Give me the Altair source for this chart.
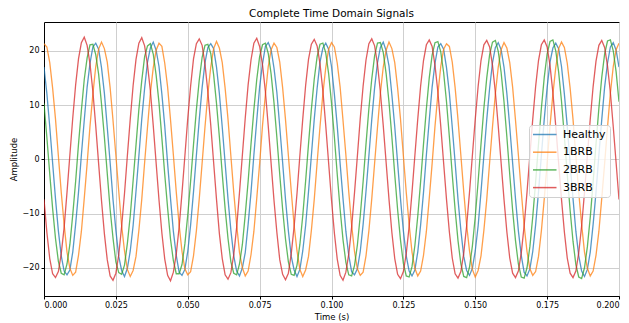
import altair as alt
import pandas as pd

signals = ["Healthy", "1BRB", "2BRB", "3BRB"]
colors = ["#1f77b4", "#ff7f0e", "#2ca02c", "#d62728"]
sample_interval = 0.001  # 1 kHz sampling, 201 samples per signal

healthy = [
    17.0, 12.1, 6.0, -0.7, -7.3, -13.2, -17.8, -20.6, -21.3, -20.4, -17.1, -12.0, -6.1, 0.8, 7.2, 13.3, 17.7, 20.7, 21.4, 20.3,
    16.9, 12.2, 5.9, -0.6, -7.4, -13.1, -17.9, -20.5, -21.6, -20.1, -16.9, -12.2, -5.9, 0.6, 7.4, 13.1, 17.9, 20.5, 21.6, 20.1,
    17.1, 12.0, 6.1, -0.8, -7.2, -13.3, -17.7, -20.8, -21.4, -20.3, -17.0, -12.1, -6.0, 0.7, 7.3, 13.2, 17.8, 20.6, 21.3, 20.4,
    17.0, 12.1, 5.9, -0.7, -7.3, -13.1, -17.8, -20.6, -21.5, -20.0, -17.2, -12.0, -6.1, 0.8, 7.2, 13.3, 17.6, 20.8, 21.5, 20.2,
    16.8, 12.3, 6.0, -0.6, -7.4, -13.2, -17.9, -20.4, -21.6, -20.3, -16.9, -12.2, -6.0, 0.7, 7.4, 13.1, 17.9, 20.5, 21.4, 20.3,
    17.1, 12.0, 6.1, -0.8, -7.2, -13.3, -17.7, -20.7, -21.3, -20.2, -17.0, -12.0, -5.9, 0.6, 7.3, 13.2, 17.8, 20.6, 21.6, 20.0,
    17.2, 11.9, 6.0, -0.7, -7.3, -13.2, -17.8, -20.6, -21.5, -20.4, -17.1, -12.1, -6.1, 0.8, 7.2, 13.3, 17.7, 20.7, 21.3, 20.3,
    16.9, 12.2, 5.9, -0.6, -7.4, -13.1, -17.9, -20.5, -21.4, -20.1, -16.9, -12.3, -6.0, 0.7, 7.3, 13.1, 17.8, 20.6, 21.5, 20.2,
    17.0, 12.1, 6.0, -0.7, -7.3, -13.2, -17.7, -20.8, -21.5, -20.2, -17.0, -12.1, -6.0, 0.7, 7.4, 13.2, 17.9, 20.5, 21.4, 20.4,
    17.1, 12.0, 6.1, -0.8, -7.2, -13.3, -17.8, -20.6, -21.6, -20.3, -17.1, -12.0, -6.1, 0.8, 7.3, 13.3, 17.7, 20.7, 21.5, 20.1,
    17.0,
]

brb1 = [
    21.3, 20.7, 17.8, 13.1, 7.4, 0.6, -6.1, -12.0, -17.1, -20.1, -21.4, -20.8, -17.7, -13.3, -7.2, -0.8, 6.1, 12.0, 17.1, 20.3,
    21.6, 20.4, 17.9, 13.2, 7.2, 0.7, -5.9, -12.2, -16.9, -20.3, -21.6, -20.5, -17.9, -13.1, -7.4, -0.6, 5.9, 12.2, 16.9, 20.1,
    21.4, 20.8, 17.7, 13.3, 7.3, 0.8, -6.0, -12.1, -17.0, -20.2, -21.3, -20.7, -17.8, -13.2, -7.3, -0.7, 6.0, 12.1, 17.0, 20.4,
    21.7, 20.5, 17.8, 13.1, 7.4, 0.6, -6.1, -12.0, -17.2, -20.0, -21.5, -20.6, -17.6, -13.3, -7.2, -0.8, 6.2, 11.9, 17.1, 20.2,
    21.4, 20.6, 17.9, 13.2, 7.3, 0.7, -5.9, -12.2, -16.9, -20.3, -21.6, -20.4, -17.9, -13.1, -7.4, -0.6, 6.0, 12.1, 16.9, 20.3,
    21.5, 20.7, 17.7, 13.3, 7.2, 0.8, -6.0, -12.1, -17.0, -20.2, -21.4, -20.8, -17.8, -13.2, -7.3, -0.7, 5.9, 12.2, 17.0, 20.1,
    21.6, 20.4, 17.8, 13.1, 7.4, 0.6, -6.1, -12.0, -17.1, -20.1, -21.5, -20.6, -17.7, -13.3, -7.2, -0.8, 6.1, 12.0, 17.1, 20.3,
    21.3, 20.8, 17.9, 13.2, 7.3, 0.7, -6.0, -12.1, -16.9, -20.3, -21.7, -20.5, -17.8, -13.1, -7.4, -0.6, 6.0, 12.1, 17.0, 20.2,
    21.5, 20.5, 17.8, 13.3, 7.2, 0.8, -5.9, -12.2, -17.0, -20.2, -21.4, -20.7, -17.9, -13.2, -7.3, -0.7, 6.1, 12.0, 16.9, 20.4,
    21.6, 20.6, 17.7, 13.1, 7.4, 0.6, -6.1, -12.0, -17.1, -20.1, -21.5, -20.6, -17.7, -13.3, -7.2, -0.8, 5.9, 12.2, 17.1, 20.2,
    21.4,
]

brb2 = [
    10.3, 4.0, -2.7, -9.1, -14.6, -18.8, -21.0, -21.3, -19.3, -15.7, -10.2, -4.1, 2.8, 9.0, 14.7, 18.7, 21.1, 21.2, 19.3, 15.7,
    10.2, 4.1, -2.6, -9.2, -14.5, -18.9, -20.9, -21.2, -19.5, -15.5, -10.4, -3.9, 2.6, 9.2, 14.5, 18.9, 20.9, 21.3, 19.4, 15.5,
    10.4, 3.9, -2.8, -9.0, -14.7, -18.7, -21.1, -21.1, -19.4, -15.6, -10.3, -4.0, 2.7, 9.1, 14.6, 18.8, 21.0, 21.2, 19.5, 15.6,
    10.3, 4.1, -2.7, -9.1, -14.6, -18.9, -21.0, -21.3, -19.3, -15.7, -10.2, -4.1, 2.8, 9.1, 14.7, 18.9, 21.1, 21.4, 19.5, 15.7,
    10.4, 4.0, -2.8, -9.2, -14.7, -18.9, -21.2, -21.4, -19.5, -15.7, -10.4, -4.0, 2.8, 9.2, 14.8, 18.9, 21.2, 21.4, 19.6, 15.8,
    10.4, 4.1, -2.8, -9.2, -14.8, -19.0, -21.3, -21.5, -19.6, -15.8, -10.4, -4.1, 2.8, 9.3, 14.8, 19.1, 21.4, 21.5, 19.7, 15.8,
    10.5, 4.1, -2.8, -9.3, -14.9, -19.2, -21.5, -21.7, -19.8, -15.9, -10.5, -4.1, 2.8, 9.3, 15.0, 19.2, 21.5, 21.7, 19.8, 16.0,
    10.6, 4.1, -2.8, -9.3, -15.0, -19.3, -21.6, -21.8, -19.9, -16.0, -10.6, -4.1, 2.8, 9.4, 15.0, 19.3, 21.6, 21.9, 19.9, 16.0,
    10.6, 4.1, -2.8, -9.4, -15.0, -19.3, -21.7, -21.9, -20.0, -16.1, -10.6, -4.2, 2.8, 9.4, 15.1, 19.4, 21.7, 22.0, 20.0, 16.1,
    10.7, 4.2, -2.8, -9.4, -15.1, -19.4, -21.7, -22.0, -20.0, -16.1, -10.7, -4.2, 2.8, 9.4, 15.1, 19.4, 21.8, 22.0, 20.0, 16.1,
    10.6,
]

brb3 = [
    -7.4, -13.5, -18.3, -21.1, -21.8, -20.7, -17.4, -12.6, -6.1, 0.8, 7.6, 13.7, 18.5, 21.5, 22.5, 21.0, 17.6, 12.5, 6.1, -0.8,
    -7.6, -13.7, -18.5, -21.5, -22.3, -21.0, -17.6, -12.4, -6.3, 0.7, 7.4, 13.6, 18.4, 21.4, 22.4, 20.9, 17.4, 12.6, 6.2, -0.7,
    -7.5, -13.6, -18.4, -21.4, -22.4, -20.8, -17.5, -12.5, -6.2, 0.6, 7.5, 13.5, 18.5, 21.3, 22.2, 21.0, 17.5, 12.4, 6.3, -0.6,
    -7.4, -13.7, -18.3, -21.3, -22.1, -20.9, -17.6, -12.6, -6.1, 0.8, 7.6, 13.7, 18.3, 21.4, 22.3, 20.8, 17.4, 12.5, 6.1, -0.8,
    -7.6, -13.5, -18.5, -21.2, -22.2, -21.0, -17.4, -12.4, -6.3, 0.7, 7.4, 13.6, 18.4, 21.2, 22.1, 20.9, 17.6, 12.6, 6.2, -0.7,
    -7.5, -13.6, -18.4, -21.4, -22.3, -20.8, -17.5, -12.5, -6.2, 0.6, 7.5, 13.5, 18.3, 21.3, 22.2, 20.9, 17.5, 12.4, 6.2, -0.6,
    -7.4, -13.5, -18.3, -21.2, -22.0, -20.7, -17.4, -12.4, -6.1, 0.7, 7.4, 13.5, 18.2, 21.1, 22.0, 20.8, 17.3, 12.4, 6.1, -0.7,
    -7.4, -13.4, -18.2, -21.1, -21.9, -20.7, -17.3, -12.3, -6.1, 0.7, 7.4, 13.4, 18.2, 21.1, 21.9, 20.7, 17.3, 12.3, 6.1, -0.7,
    -7.4, -13.4, -18.2, -21.0, -21.8, -20.6, -17.3, -12.3, -6.1, 0.7, 7.4, 13.4, 18.2, 21.1, 22.0, 20.7, 17.3, 12.3, 6.1, -0.7,
    -7.4, -13.4, -18.2, -21.0, -21.8, -20.6, -17.2, -12.3, -6.1, 0.7, 7.4, 13.4, 18.1, 21.0, 21.9, 20.6, 17.2, 12.3, 6.0, -0.7,
    -7.4,
]

x_ticks = [0.0, 0.025, 0.05, 0.075, 0.1, 0.125, 0.15, 0.175, 0.2]
y_ticks = [-20, -10, 0, 10, 20]

rows = []
for name, vals in zip(signals, [healthy, brb1, brb2, brb3]):
    for i, v in enumerate(vals):
        rows.append({"time": round(i * sample_interval, 4), "amplitude": v, "signal": name})
df = pd.DataFrame(rows)

FONT = "DejaVu Sans"

chart = (
    alt.Chart(df)
    .mark_line(strokeWidth=1.3, opacity=0.75, clip=True)
    .encode(
        x=alt.X(
            "time:Q",
            scale=alt.Scale(domain=[0, 0.2], nice=False, zero=False),
            axis=alt.Axis(title="Time (s)", values=x_ticks, format=".3f"),
        ),
        y=alt.Y(
            "amplitude:Q",
            scale=alt.Scale(domain=[-25.2, 25.3], nice=False, zero=False),
            axis=alt.Axis(title="Amplitude", values=y_ticks, format="d"),
        ),
        color=alt.Color(
            "signal:N",
            sort=signals,
            scale=alt.Scale(domain=signals, range=colors),
            legend=alt.Legend(
                title=None,
                orient="none",
                legendX=485,
                legendY=103,
                direction="vertical",
                fillColor="rgba(255,255,255,0.8)",
                strokeColor="#d0d0d0",
                cornerRadius=3,
                padding=4,
                labelFont=FONT,
                labelFontSize=11,
                labelColor="#000000",
                symbolType="M-1,0H8.4",
                symbolSize=25,
                symbolStrokeWidth=1.5,
                symbolOffset=-3,
                labelOffset=22,
                rowPadding=5.7,
            ),
        ),
    )
    .properties(
        width=575,
        height=274,
        title=alt.Title(
            "Complete Time Domain Signals",
            font=FONT,
            fontSize=10.5,
            fontWeight="normal",
            color="#000000",
            offset=3,
        ),
        padding={"left": 36, "top": 14, "right": 2, "bottom": 25},
        autosize=alt.AutoSizeParams(type="none"),
    )
    .configure_view(stroke="#000000", strokeWidth=1)
    .configure_axis(
        labelFont=FONT,
        titleFont=FONT,
        labelFontSize=8,
        titleFontSize=8.5,
        titleFontWeight="normal",
        labelColor="#000000",
        titleColor="#000000",
        domainColor="#000000",
        tickColor="#000000",
        tickSize=3,
        labelPadding=2,
        gridColor="#cfcfcf",
        gridWidth=1,
    )
    .configure_axisX(titlePadding=3)
    .configure_axisY(titlePadding=4)
)

chart.save("out.html", embed_options={"renderer": "svg", "actions": False})
